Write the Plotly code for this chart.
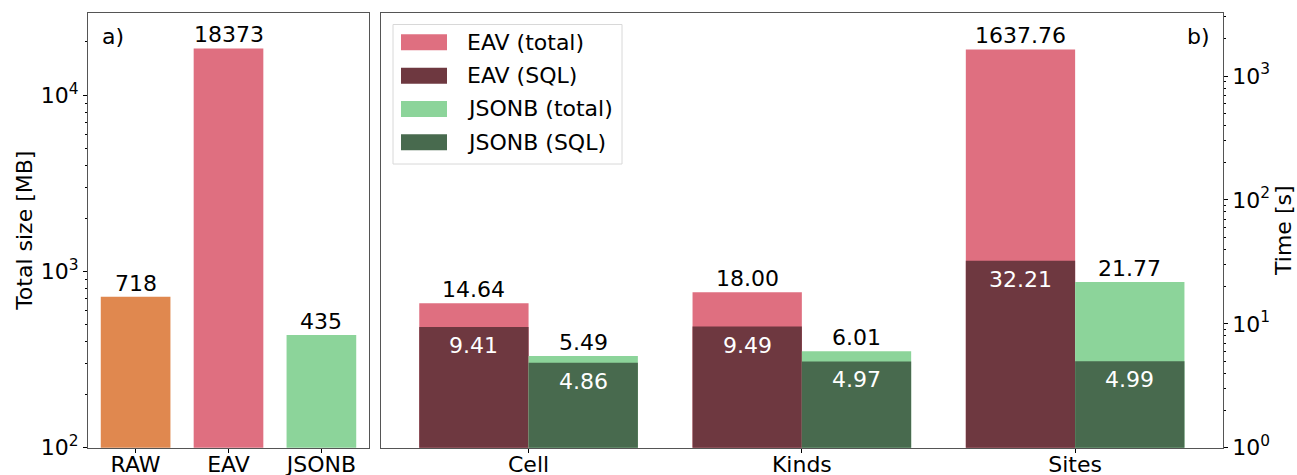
import math
import plotly.graph_objects as go

# ---- data ----
size_labels = ["RAW", "EAV", "JSONB"]
size_values = [718, 18373, 435]

query_labels = ["Cell", "Kinds", "Sites"]
eav_total = [14.64, 18.00, 1637.76]
eav_sql = [9.41, 9.49, 32.21]
jsonb_total = [5.49, 6.01, 21.77]
jsonb_sql = [4.86, 4.97, 4.99]

legend_names = ["EAV (total)", "EAV (SQL)", "JSONB (total)", "JSONB (SQL)"]

# ---- style ----
FONT = "DejaVu Sans"
FS = 22
C_RAW = "#e0884f"
C_EAV_T = "#df6f80"
C_EAV_S = "#6e3840"
C_JS_T = "#8cd49a"
C_JS_S = "#486a4e"
LINE = "#555555"
W, H = 1297, 475


def px_x(p):
    return p / W


def px_y(p):
    return 1 - p / H


def minor_vals(lo, hi):
    return [m * 10 ** e for e in range(lo, hi) for m in range(2, 10)]


fig = go.Figure()

idx_a = list(range(len(size_labels)))
idx_b = list(range(len(query_labels)))
bw = 0.4

fig.add_trace(go.Bar(x=idx_a, y=size_values, width=0.75,
                     marker=dict(color=[C_RAW, C_EAV_T, C_JS_T], line=dict(width=0)),
                     xaxis="x", yaxis="y", showlegend=False, hoverinfo="skip"))

xs_eav = [i - bw / 2 for i in idx_b]
xs_js = [i + bw / 2 for i in idx_b]
for xs, ys, col in [(xs_eav, eav_total, C_EAV_T), (xs_eav, eav_sql, C_EAV_S),
                    (xs_js, jsonb_total, C_JS_T), (xs_js, jsonb_sql, C_JS_S)]:
    fig.add_trace(go.Bar(x=xs, y=ys, width=bw, marker=dict(color=col, line=dict(width=0)),
                         xaxis="x2", yaxis="y2", showlegend=False, hoverinfo="skip"))

ann = []
for i, v in zip(idx_a, size_values):
    ann.append(dict(x=i, y=math.log10(v), xref="x", yref="y", text=str(v), showarrow=False,
                    yanchor="bottom", yshift=-1, font=dict(size=FS, color="black", family=FONT)))
for xs, tot, sql in [(xs_eav, eav_total, eav_sql), (xs_js, jsonb_total, jsonb_sql)]:
    for x, t, s in zip(xs, tot, sql):
        ann.append(dict(x=x, y=math.log10(t), xref="x2", yref="y2", text=f"{t:.2f}",
                        showarrow=False, yanchor="bottom", yshift=-1,
                        font=dict(size=FS, color="black", family=FONT)))
        ann.append(dict(x=x, y=math.log10(s), xref="x2", yref="y2", text=f"{s:.2f}",
                        showarrow=False, yanchor="top", yshift=-4,
                        font=dict(size=FS, color="white", family=FONT)))

# panel labels
ann.append(dict(x=px_x(100), y=px_y(22), xref="paper", yref="paper", text="a)", showarrow=False,
                xanchor="left", yanchor="top", font=dict(size=FS, color="black", family=FONT)))
ann.append(dict(x=px_x(1212), y=px_y(22), xref="paper", yref="paper", text="b)", showarrow=False,
                xanchor="right", yanchor="top", font=dict(size=FS, color="black", family=FONT)))

# legend box
shapes = [dict(type="rect", xref="paper", yref="paper", x0=px_x(393), x1=px_x(622),
               y0=px_y(164), y1=px_y(24.5), line=dict(color="#d8d8d8", width=1),
               fillcolor="rgba(255,255,255,0.8)", layer="above")]
rows = [42.3, 75.7, 109, 142.3]
for name, col, r in zip(legend_names, [C_EAV_T, C_EAV_S, C_JS_T, C_JS_S], rows):
    shapes.append(dict(type="rect", xref="paper", yref="paper", x0=px_x(401), x1=px_x(447),
                       y0=px_y(r + 8), y1=px_y(r - 8), line=dict(width=0), fillcolor=col,
                       layer="above"))
    ann.append(dict(x=px_x(465), y=px_y(r), xref="paper", yref="paper", text=name,
                    showarrow=False, xanchor="left", yanchor="middle",
                    font=dict(size=FS, color="black", family=FONT)))

tickfont = dict(size=FS, color="black", family=FONT)
axis_common = dict(showline=True, linecolor=LINE, linewidth=1.3, mirror=True,
                   showgrid=False, zeroline=False, ticks="outside", ticklen=4,
                   tickcolor="black", tickwidth=1, tickfont=tickfont, automargin=False)

fig.update_layout(
    width=W, height=H, margin=dict(l=0, r=0, t=0, b=0, autoexpand=False),
    paper_bgcolor="white", plot_bgcolor="white",
    barmode="overlay", showlegend=False,
    font=dict(family=FONT, size=FS, color="black"),
    xaxis=dict(domain=[px_x(88), px_x(369)], range=[-0.5125, 2.5125],
               tickvals=idx_a, ticktext=size_labels, anchor="y",
               ticklabelstandoff=-7, **axis_common),
    yaxis=dict(domain=[px_y(447.7), px_y(12.7)], type="log", range=[2, 4.467],
               tickvals=[100, 1000, 10000],
               ticktext=["10<sup>2</sup>", "10<sup>3</sup>", "10<sup>4</sup>"],
               minor=dict(tickvals=minor_vals(2, 5), ticks="outside", ticklen=2,
                          tickcolor="black", tickwidth=0.8, showgrid=False),
               title=dict(text="Total size [MB]", font=tickfont, standoff=1),
               anchor="x", side="left", **axis_common),
    xaxis2=dict(domain=[px_x(381), px_x(1222.7)], range=[-0.54, 2.54],
                tickvals=idx_b, ticktext=query_labels, anchor="y2",
                ticklabelstandoff=-7, **axis_common),
    yaxis2=dict(domain=[px_y(447.7), px_y(12.7)], type="log", range=[0, 3.511],
                tickvals=[1, 10, 100, 1000],
                ticktext=["10<sup>0</sup>", "10<sup>1</sup>", "10<sup>2</sup>", "10<sup>3</sup>"],
                minor=dict(tickvals=minor_vals(0, 4), ticks="outside", ticklen=2,
                           tickcolor="black", tickwidth=0.8, showgrid=False),
                title=dict(text="Time [s]", font=tickfont, standoff=6),
                anchor="x2", side="right", **axis_common),
    annotations=ann, shapes=shapes,
)

page_css = (
    "var h=document.documentElement,b=document.body;"
    "h.style.margin='0';h.style.padding='0';h.style.overflow='hidden';"
    "b.style.margin='0';b.style.padding='0';b.style.overflow='hidden';"
)

fig.write_html("out.html", config={"displayModeBar": False}, post_script=page_css)
